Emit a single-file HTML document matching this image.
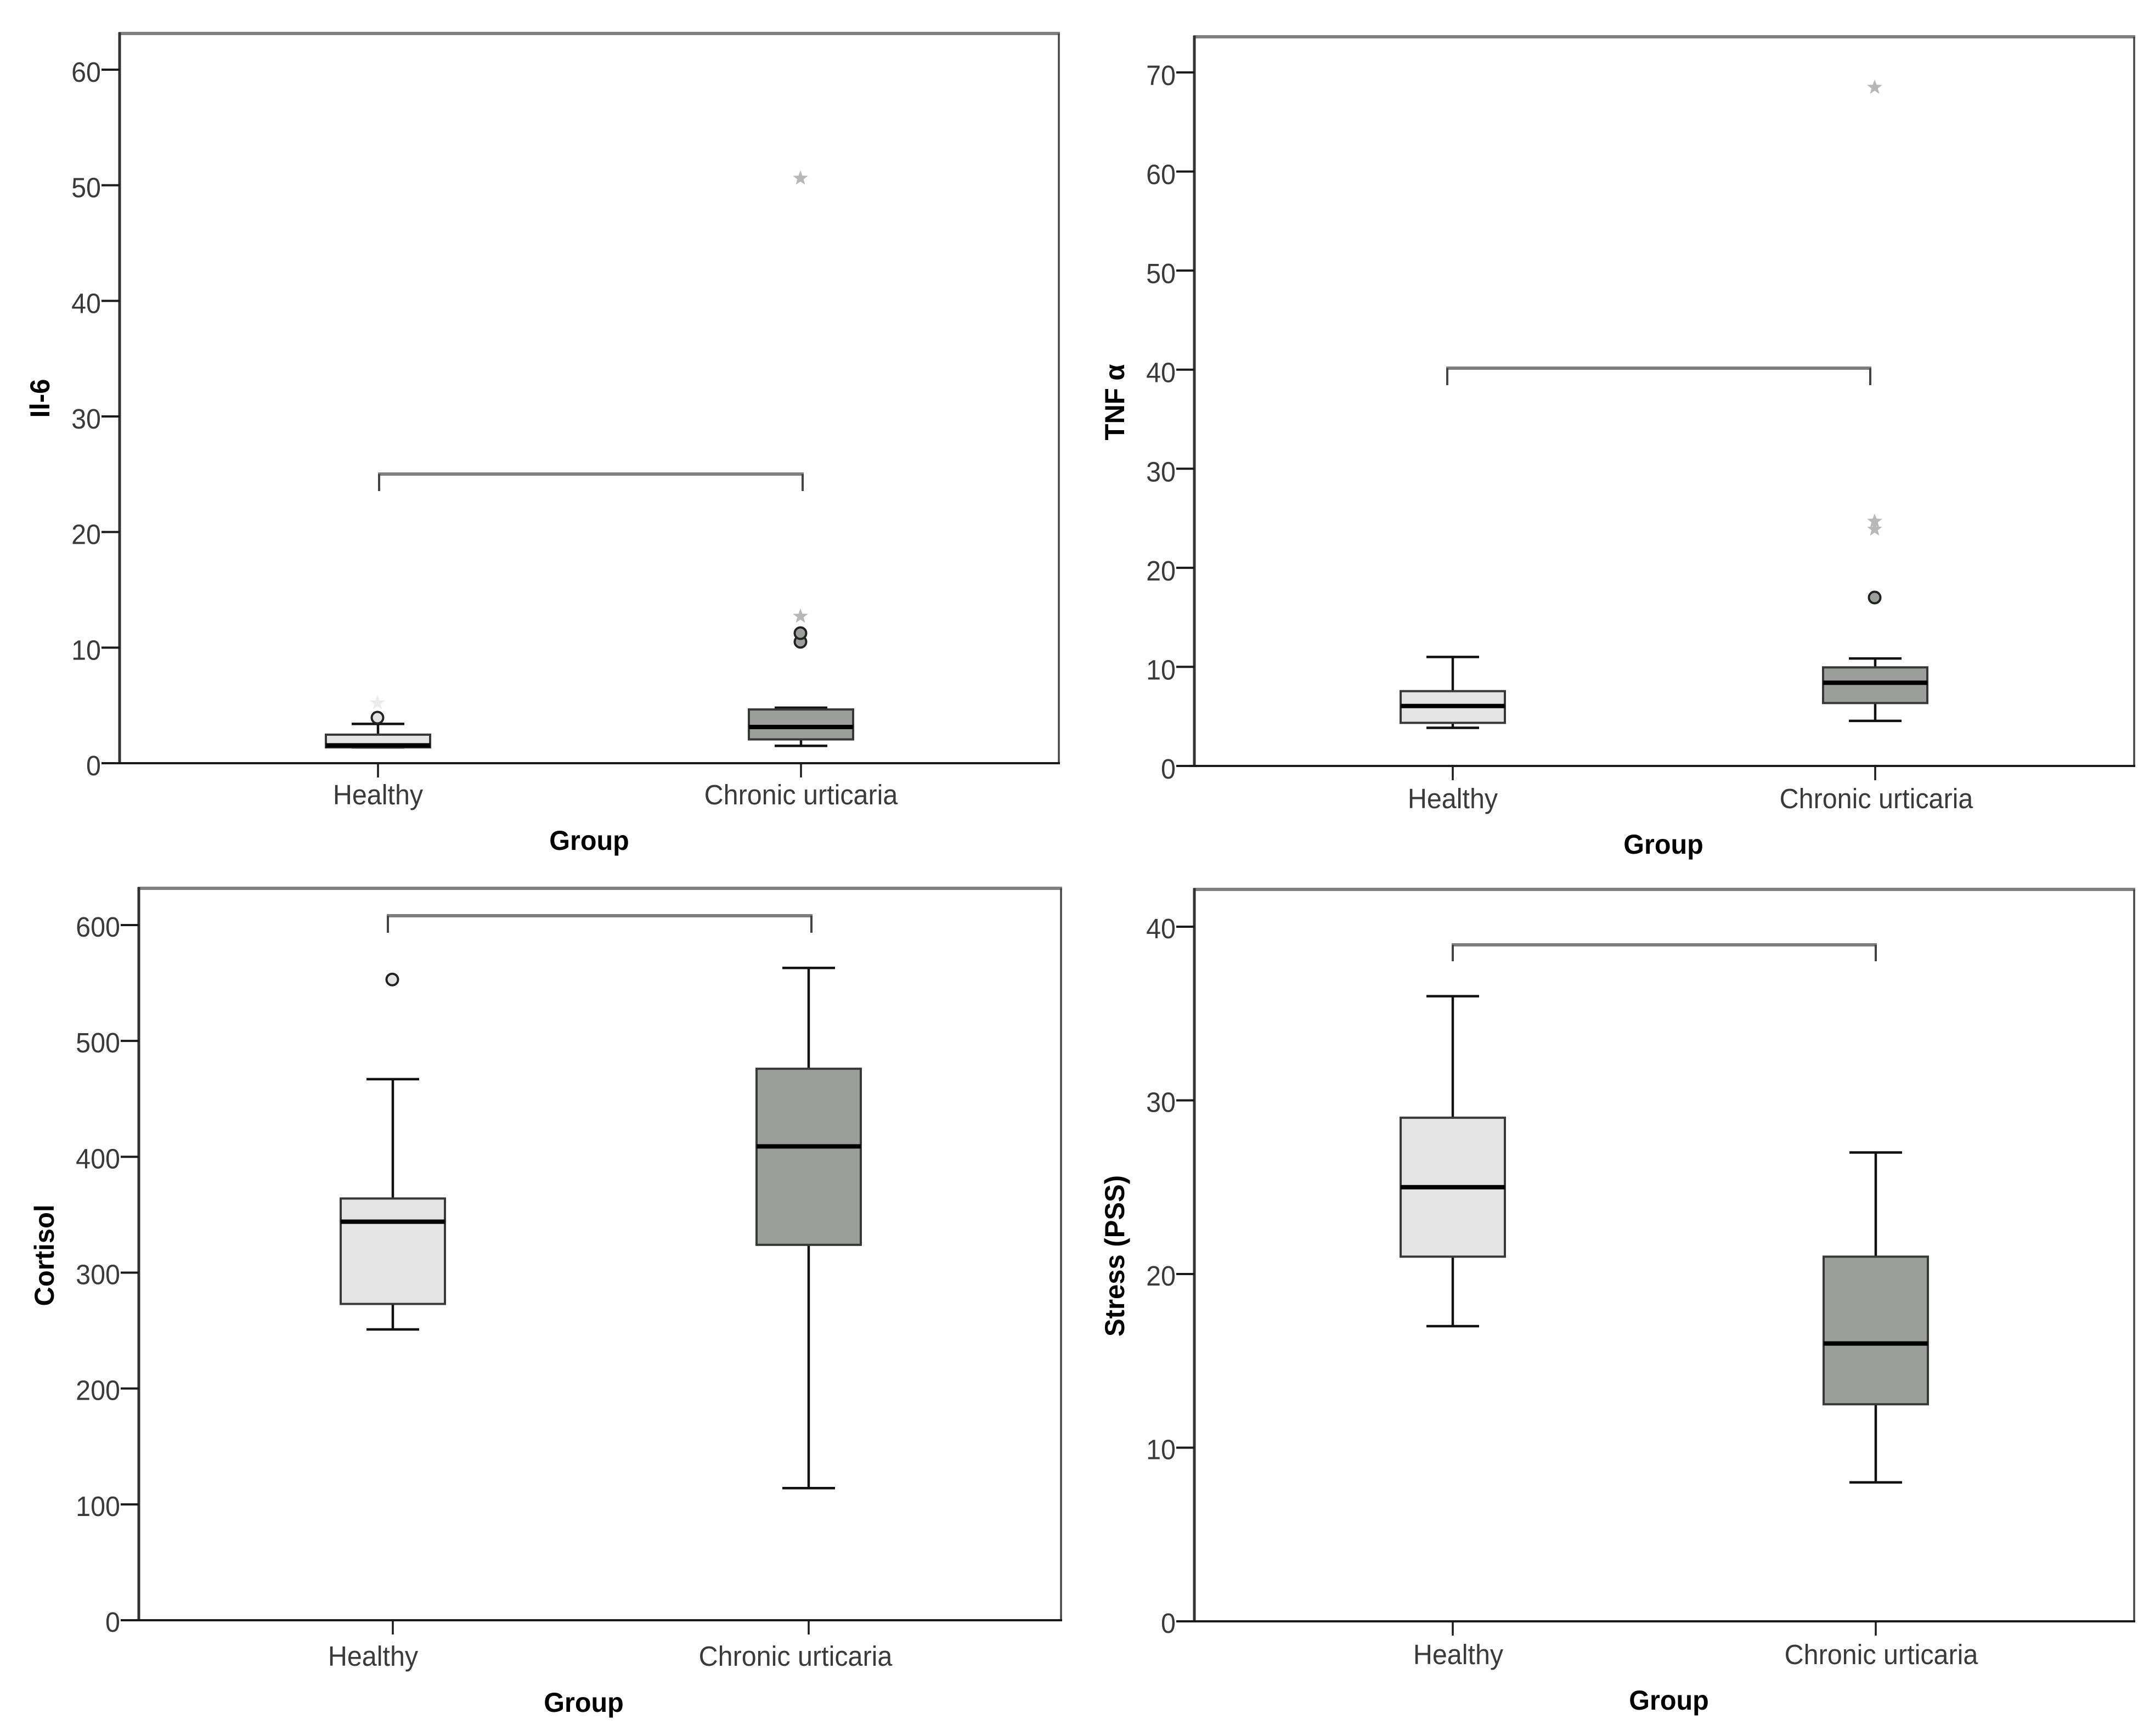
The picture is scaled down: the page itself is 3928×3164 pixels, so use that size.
<!DOCTYPE html>
<html lang="en">
<head>
<meta charset="utf-8">
<title>Boxplots of Il-6, TNF alpha, Cortisol and Stress by group</title>
<style>
html,body{margin:0;padding:0;background:#fff;}
svg{display:block;}
text{font-family:"Liberation Sans",Arial,sans-serif;}
</style>
</head>
<body>
<svg id="chart" xmlns="http://www.w3.org/2000/svg" width="3928" height="3164" viewBox="0 0 3928 3164"></svg>
<script>
// ---- categories ----
const groupNames = ["Healthy", "Chronic urticaria"];

// ---- Il-6 values: [whisker low, Q1, median, Q3, whisker high] ----
const il6Ticks = [0, 10, 20, 30, 40, 50, 60];
const il6HealthyBox = [1.37, 1.37, 1.54, 2.47, 3.4];
const il6UrticariaBox = [1.5, 2.06, 3.13, 4.65, 4.8];
const il6HealthyCircles = [3.94];
const il6UrticariaCircles = [10.5, 11.25];
const il6HealthyStars = [5.3];
const il6UrticariaStars = [12.8, 50.7];

// ---- TNF alpha values ----
const tnfTicks = [0, 10, 20, 30, 40, 50, 60, 70];
const tnfHealthyBox = [3.85, 4.35, 6.05, 7.55, 11];
const tnfUrticariaBox = [4.55, 6.35, 8.4, 9.95, 10.85];
const tnfHealthyCircles = [];
const tnfUrticariaCircles = [17];
const tnfHealthyStars = [];
const tnfUrticariaStars = [24, 24.8, 68.6];

// ---- Cortisol values ----
const cortisolTicks = [0, 100, 200, 300, 400, 500, 600];
const cortisolHealthyBox = [251, 273, 344, 364, 467];
const cortisolUrticariaBox = [114, 324, 409, 476, 563];
const cortisolHealthyCircles = [553];
const cortisolUrticariaCircles = [];
const cortisolHealthyStars = [];
const cortisolUrticariaStars = [];

// ---- Stress (PSS) values ----
const stressTicks = [0, 10, 20, 30, 40];
const stressHealthyBox = [17, 21, 25, 29, 36];
const stressUrticariaBox = [8, 12.5, 16, 21, 27];
const stressHealthyCircles = [];
const stressUrticariaCircles = [];
const stressHealthyStars = [];
const stressUrticariaStars = [];

const NS = "http://www.w3.org/2000/svg";
const root = document.getElementById("chart");
const FILLS = ["#e4e4e4", "#9c9e9c"];
const STAR_COLORS = ["#ececec", "#b8b8b8"];
const FONT = 51, SQUISH = 0.95;

function make(tag, attrs, parent) {
  const el = document.createElementNS(NS, tag);
  for (const k in attrs) el.setAttribute(k, attrs[k]);
  parent.appendChild(el);
  return el;
}

function starPoints(cx, cy, R) {
  const pts = [];
  for (let i = 0; i < 10; i++) {
    const r = i % 2 ? R * 0.42 : R;
    const a = -Math.PI / 2 + i * Math.PI / 5;
    pts.push((cx + r * Math.cos(a)).toFixed(1) + "," + (cy + r * Math.sin(a)).toFixed(1));
  }
  return pts.join(" ");
}

function drawPanel(p) {
  const g = make("g", {}, root);
  
  

  const topTick = p.ticks[p.ticks.length - 1];
  const yScale = v => p.y0 - (v / topTick) * (p.y0 - p.yMax);
  const xScale = i => p.cx[i];

  // frame
  const frameTop = make("line", {x1: p.l - 2, x2: p.r + 2, y1: p.t, y2: p.t, stroke: "#808080", "stroke-width": 6}, g);
  
  
  const frameRight = make("line", {x1: p.r, x2: p.r, y1: p.t, y2: p.y0, stroke: "#444", "stroke-width": 3.5}, g);
  
  
  const yAxis = make("line", {x1: p.l, x2: p.l, y1: p.t - 2, y2: p.y0 + 2, stroke: "#333", "stroke-width": 5}, g);
  
  
  const xAxis = make("line", {x1: p.l, x2: p.r + 2, y1: p.y0, y2: p.y0, stroke: "#1a1a1a", "stroke-width": 4}, g);
  
  

  // y ticks
  p.ticks.forEach(v => {
    const y = yScale(v);
    const tick = make("line", {x1: p.l - 33, x2: p.l, y1: y, y2: y, stroke: "#1a1a1a", "stroke-width": 4}, g);
    
    
    const label = make("text", {
      transform: "translate(" + (p.l - 34) + "," + (y + p.tickDy) + ") scale(" + SQUISH + ",1)",
      "text-anchor": "end", "font-size": FONT, fill: "#3a3a3a"
    }, g);
    
    
    label.textContent = String(v);
  });

  // x ticks and category labels
  groupNames.forEach((name, i) => {
    const tick = make("line", {x1: xScale(i), x2: xScale(i), y1: p.y0, y2: p.y0 + 26, stroke: "#1a1a1a", "stroke-width": 3.5}, g);
    
    
    const label = make("text", {
      transform: "translate(" + p.labelX[i] + "," + p.labelY + ") scale(" + SQUISH + ",1)",
      "text-anchor": "middle", "font-size": FONT, fill: "#3a3a3a"
    }, g);
    
    
    label.textContent = name;
  });

  // axis titles
  const xTitle = make("text", {
    transform: "translate(" + p.groupX + "," + p.groupY + ") scale(0.97,1)",
    "text-anchor": "middle", "font-size": 50, "font-weight": "bold", fill: "#000"
  }, g);
  
  
  xTitle.textContent = "Group";
  const yTitle = make("text", {
    transform: "translate(" + p.titleX + "," + p.titleY + ") rotate(-90) scale(0.98,1)",
    "text-anchor": "middle", "font-size": 50, "font-weight": "bold", fill: "#000"
  }, g);
  
  
  yTitle.textContent = p.title;

  // significance bracket
  const bracketTop = make("line", {x1: p.bracket[0] - 2, x2: p.bracket[1] + 2, y1: p.bracket[2], y2: p.bracket[2], stroke: "#7e7e7e", "stroke-width": 6}, g);
  
  
  [p.bracket[0], p.bracket[1]].forEach(x => {
    const leg = make("line", {x1: x, x2: x, y1: p.bracket[2], y2: p.bracket[3], stroke: "#444", "stroke-width": 4}, g);
    
    
  });

  // boxes
  p.boxes.forEach((b, i) => {
    const cx = xScale(i);
    const [lo, q1, med, q3, hi] = b;
    const whisker = make("line", {x1: cx, x2: cx, y1: yScale(lo), y2: yScale(hi), stroke: "#111", "stroke-width": 4.5}, g);
    
    
    [lo, hi].forEach(v => {
      const cap = make("line", {x1: cx - 48, x2: cx + 48, y1: yScale(v), y2: yScale(v), stroke: "#111", "stroke-width": 4.5}, g);
      
      
    });
    const rect = make("rect", {
      x: cx - 95, y: yScale(q3), width: 190, height: yScale(q1) - yScale(q3),
      fill: FILLS[i], stroke: "#383838", "stroke-width": 4
    }, g);
    
    
    const median = make("line", {x1: cx - 95, x2: cx + 95, y1: yScale(med), y2: yScale(med), stroke: "#000", "stroke-width": 8}, g);
    
    
  });

  // outliers
  p.stars.forEach((list, i) => {
    list.forEach(v => {
      const star = make("polygon", {
        points: starPoints(xScale(i) - 1, yScale(v) + 2, 13),
        fill: STAR_COLORS[i], stroke: STAR_COLORS[i], "stroke-width": 1
      }, g);
      
      
    });
  });
  p.circles.forEach((list, i) => {
    list.forEach(v => {
      const c = make("circle", {
        cx: xScale(i) - 1, cy: yScale(v), r: 10.5,
        fill: FILLS[i], stroke: "#222", "stroke-width": 4
      }, g);
      
      
    });
  });
}

drawPanel({
  id: "il6", title: "Il-6", ticks: il6Ticks,
  boxes: [il6HealthyBox, il6UrticariaBox],
  circles: [il6HealthyCircles, il6UrticariaCircles],
  stars: [il6HealthyStars, il6UrticariaStars],
  l: 218, r: 1930, t: 61, y0: 1391, yMax: 127, cx: [689, 1460], tickDy: 22,
  labelX: [689, 1460], labelY: 1466, groupX: 1074, groupY: 1549,
  titleX: 90, titleY: 726, bracket: [691, 1463, 864, 895]
});
drawPanel({
  id: "tnf", title: "TNF \u03B1", ticks: tnfTicks,
  boxes: [tnfHealthyBox, tnfUrticariaBox],
  circles: [tnfHealthyCircles, tnfUrticariaCircles],
  stars: [tnfHealthyStars, tnfUrticariaStars],
  l: 2177, r: 3890, t: 67, y0: 1396, yMax: 132, cx: [2648, 3418], tickDy: 23,
  labelX: [2648, 3420], labelY: 1473, groupX: 3032, groupY: 1556,
  titleX: 2049, titleY: 733, bracket: [2638, 3409, 671, 702]
});
drawPanel({
  id: "cortisol", title: "Cortisol", ticks: cortisolTicks,
  boxes: [cortisolHealthyBox, cortisolUrticariaBox],
  circles: [cortisolHealthyCircles, cortisolUrticariaCircles],
  stars: [cortisolHealthyStars, cortisolUrticariaStars],
  l: 253, r: 1934, t: 1619, y0: 2953, yMax: 1686, cx: [716, 1474], tickDy: 21,
  labelX: [680, 1450], labelY: 3036, groupX: 1064, groupY: 3120,
  titleX: 98, titleY: 2288, bracket: [707, 1479, 1669, 1700]
});
drawPanel({
  id: "stress", title: "Stress (PSS)", ticks: stressTicks,
  boxes: [stressHealthyBox, stressUrticariaBox],
  circles: [stressHealthyCircles, stressUrticariaCircles],
  stars: [stressHealthyStars, stressUrticariaStars],
  l: 2177, r: 3890, t: 1621, y0: 2955, yMax: 1689, cx: [2648, 3419], tickDy: 21,
  labelX: [2658, 3429], labelY: 3033, groupX: 3042, groupY: 3116,
  titleX: 2049, titleY: 2289, bracket: [2648, 3419, 1722, 1752]
});
</script>
</body>
</html>
